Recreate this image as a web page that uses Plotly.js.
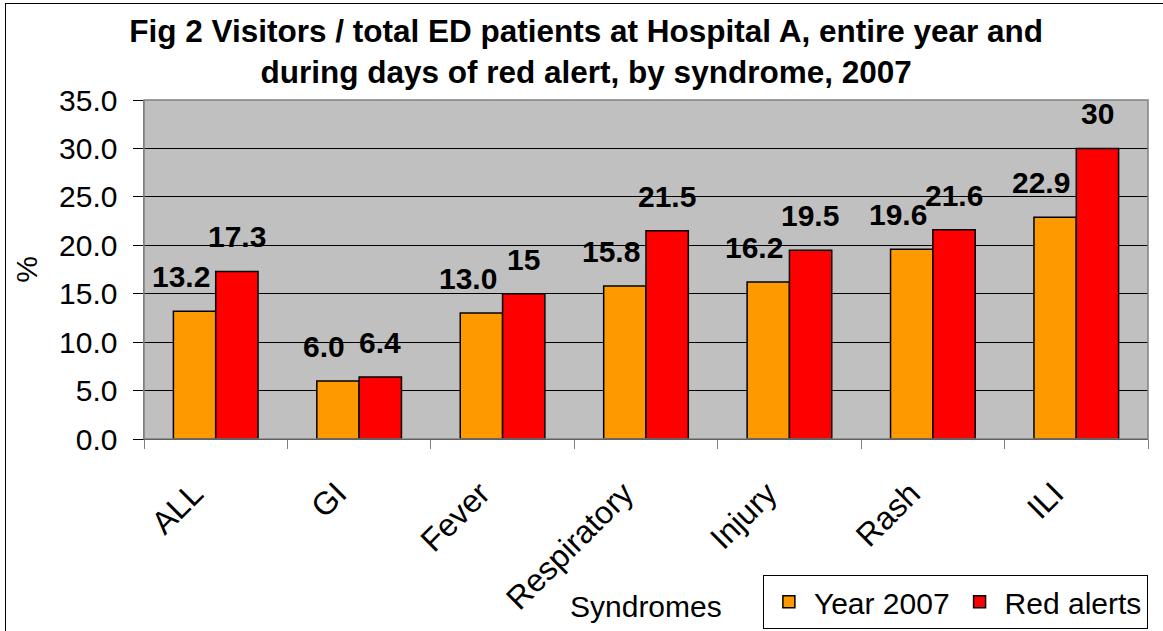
<!DOCTYPE html>
<html>
<head>
<meta charset="utf-8">
<script src="https://cdn.plot.ly/plotly-3.0.1.min.js"></script>
<style>
  html, body { margin: 0; padding: 0; background: #fff; overflow: hidden; }
  #wrap { position: relative; width: 1163px; height: 631px; }
  #chart { position: absolute; left: 0; top: 0; width: 1163px; height: 631px; }
  #frame { position: absolute; left: 5px; top: 3px; width: 1170px; height: 640px; border: 1px solid #000; pointer-events: none; }
</style>
</head>
<body>
<div id="wrap">
  <div id="chart"></div>
  <div id="frame"></div>
</div>
<script>
const categories = ["ALL", "GI", "Fever", "Respiratory", "Injury", "Rash", "ILI"];
const year2007 = [13.2, 6.0, 13.0, 15.8, 16.2, 19.6, 22.9];
const redAlerts = [17.3, 6.4, 15, 21.5, 19.5, 21.6, 30];
const year2007Labels = ["13.2", "6.0", "13.0", "15.8", "16.2", "19.6", "22.9"];
const redAlertLabels = ["17.3", "6.4", "15", "21.5", "19.5", "21.6", "30"];
const yTicks = [0, 5, 10, 15, 20, 25, 30, 35];
const xAxisTitle = "Syndromes";

const FONT = "Arial, 'Liberation Sans', sans-serif";

const traces = [
  {
    type: "bar", name: "Year 2007", x: categories, y: year2007,
    marker: { color: "#FF9900", line: { color: "#000", width: 1.5 } },
    hoverinfo: "none"
  },
  {
    type: "bar", name: "Red alerts", x: categories, y: redAlerts,
    marker: { color: "#FF0000", line: { color: "#000", width: 1.5 } },
    hoverinfo: "none"
  }
];

const annotations = [];
categories.forEach((c, i) => {
  annotations.push({
    x: c, y: year2007[i], xref: "x", yref: "y", text: year2007Labels[i],
    showarrow: false, xanchor: "center", yanchor: "bottom", xshift: -35, yshift: 16,
    font: { family: FONT, size: 30, color: "#000", weight: "bold" }
  });
  annotations.push({
    x: c, y: redAlerts[i], xref: "x", yref: "y", text: redAlertLabels[i],
    showarrow: false, xanchor: "center", yanchor: "bottom", xshift: 21, yshift: 16,
    font: { family: FONT, size: 30, color: "#000", weight: "bold" }
  });
});
// x-axis title
annotations.push({
  x: 0.5, y: -0.493, xref: "paper", yref: "paper", text: xAxisTitle,
  showarrow: false, xanchor: "center", yanchor: "middle",
  font: { family: FONT, size: 30, color: "#000" }
});

const layout = {
  width: 1163, height: 631,
  margin: { l: 144, r: 15, t: 100, b: 192, pad: 0 },
  paper_bgcolor: "#FFFFFF",
  plot_bgcolor: "#C0C0C0",
  font: { family: FONT, size: 30, color: "#000" },
  title: {
    text: "<b>Fig 2 Visitors / total ED patients at Hospital A, entire year and<br>during days of red alert, by syndrome, 2007</b>",
    font: { family: FONT, size: 31.5, color: "#000" },
    x: 0.504, xref: "container", xanchor: "center",
    y: 0.933, yref: "container", yanchor: "top"
  },
  barmode: "group",
  bargap: 0.41,
  bargroupgap: 0,
  showlegend: true,
  legend: {
    orientation: "h", x: 0.987, xanchor: "right", xref: "container",
    y: 0.089, yanchor: "top", yref: "container",
    bgcolor: "#FFFFFF", bordercolor: "#000", borderwidth: 1,
    font: { family: FONT, size: 30, color: "#000" },
    traceorder: "normal", itemwidth: 40
  },
  xaxis: {
    type: "category",
    tickangle: -45,
    tickson: "boundaries",
    ticks: "outside", ticklen: 9, tickcolor: "#808080", tickwidth: 1,
    showline: true, linecolor: "#000", linewidth: 1,
    showgrid: false,
    tickfont: { family: FONT, size: 32, color: "#000" },
    ticklabelstandoff: 22,
    ticklabelshift: -22,
    automargin: false
  },
  yaxis: {
    range: [0, 35],
    tickvals: yTicks,
    tickformat: ".1f",
    ticks: "outside", ticklen: 10, tickcolor: "#000", tickwidth: 1,
    showline: true, linecolor: "#808080", linewidth: 1.5,
    showgrid: true, gridcolor: "#000", gridwidth: 1,
    zeroline: false,
    tickfont: { family: FONT, size: 30, color: "#000" },
    ticklabelstandoff: 9,
    automargin: false,
    title: { text: "%", font: { family: FONT, size: 30, color: "#000" }, standoff: 12 }
  },
  shapes: [
    { type: "rect", xref: "paper", yref: "paper", x0: 0, x1: 1, y0: 0, y1: 1,
      line: { color: "#808080", width: 1.5 }, fillcolor: "rgba(0,0,0,0)", layer: "above" }
  ],
  annotations: annotations
};

Plotly.newPlot("chart", traces, layout, { displayModeBar: false, staticPlot: true });
</script>
</body>
</html>
